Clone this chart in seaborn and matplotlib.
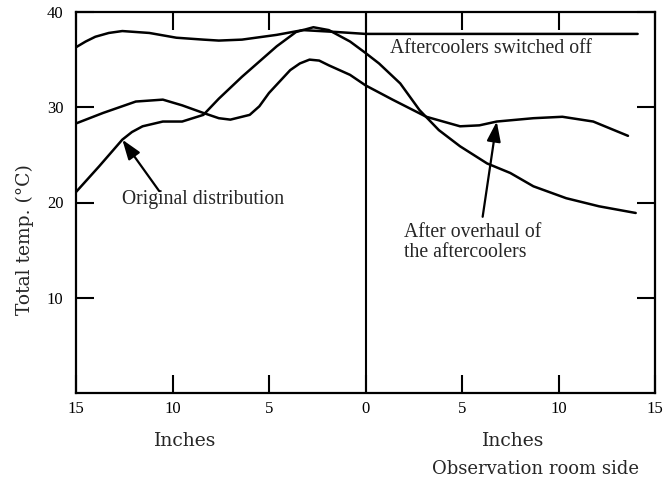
import matplotlib
matplotlib.use("Agg")
import matplotlib.pyplot as plt
import seaborn as sns
import pandas as pd
from matplotlib.ticker import FuncFormatter

# --- data ---
off_x = [-15, -14.5, -14, -13.3, -12.6, -11.2, -9.8, -8.4, -7.6, -6.4, -4.6, -3.25, -1.5, 0, 4, 8, 12, 14.1]
off_y = [36.3, 36.9, 37.4, 37.8, 38.0, 37.8, 37.3, 37.1, 37.0, 37.1, 37.6, 38.1, 37.9, 37.7, 37.7, 37.7, 37.7, 37.7]

orig_x = [-15, -13.8, -12.6, -12.1, -11.55, -10.5, -9.5, -8.4, -7.6, -6.4, -4.6, -3.6, -2.7, -1.9, -0.8,
          0, 0.7, 1.8, 2.8, 3.8, 4.9, 6.3, 7.5, 8.7, 10.4, 12.1, 14.0]
orig_y = [21.1, 23.8, 26.6, 27.4, 28.0, 28.5, 28.5, 29.2, 30.9, 33.2, 36.4, 37.9, 38.4, 38.1, 36.9,
          35.7, 34.6, 32.5, 29.7, 27.6, 25.9, 24.1, 23.1, 21.7, 20.45, 19.6, 18.9]

over_x = [-15, -13.6, -11.9, -10.5, -9.5, -8.4, -7.6, -7.0, -6.0, -5.5, -5.0, -3.9, -3.4, -2.9, -2.4,
          -1.9, -0.8, 0, 1.4, 3.15, 4.9, 5.9, 6.8, 8.7, 10.2, 11.8, 13.6]
over_y = [28.3, 29.4, 30.6, 30.8, 30.2, 29.4, 28.85, 28.7, 29.2, 30.1, 31.5, 33.9, 34.6, 35.0, 34.9,
          34.4, 33.4, 32.3, 30.8, 29.0, 28.0, 28.1, 28.5, 28.85, 29.0, 28.5, 27.0]

series_names = ["Aftercoolers switched off", "Original distribution", "After overhaul of the aftercoolers"]
x_ticks = [-15, -10, -5, 0, 5, 10, 15]
y_ticks = [10, 20, 30, 40]

df = pd.concat([
    pd.DataFrame({"x": off_x, "y": off_y, "series": series_names[0]}),
    pd.DataFrame({"x": orig_x, "y": orig_y, "series": series_names[1]}),
    pd.DataFrame({"x": over_x, "y": over_y, "series": series_names[2]}),
], ignore_index=True)

sns.set_theme(style="ticks")
plt.rcParams["font.family"] = ["Liberation Serif", "DejaVu Serif"]

fig = plt.figure(figsize=(6.65, 4.84), dpi=100)
ax = fig.add_axes([76 / 665, 1 - 393 / 484, (655 - 76) / 665, (393 - 12) / 484])

sns.lineplot(data=df, x="x", y="y", hue="series", palette=["black"] * 3,
             estimator=None, sort=True, legend=False, linewidth=1.8, ax=ax)

ax.axvline(0, color="black", linewidth=1.5)
ax.set_xlim(-15, 15)
ax.set_ylim(0, 40)
ax.set_xticks(x_ticks)
ax.set_yticks(y_ticks)
ax.xaxis.set_major_formatter(FuncFormatter(lambda v, p: f"{abs(int(round(v)))}"))
ax.tick_params(direction="in", length=13, width=1.5, top=True, right=True,
               labelsize=12, colors="black", pad=6)
ax.tick_params(axis="y", pad=9)
for s in ax.spines.values():
    s.set_linewidth(1.6)
    s.set_color("black")
ax.set_xlabel("")
ax.set_ylabel("")

# annotations
afs = 14.2
ax.text(6.5, 36.2, "Aftercoolers switched off", ha="center", va="center", fontsize=afs)
ax.text(-12.61, 20.27, "Original distribution", ha="left", va="center", fontsize=afs)
ax.text(2.02, 16.8, "After overhaul of", ha="left", va="center", fontsize=afs)
ax.text(2.02, 14.7, "the aftercoolers", ha="left", va="center", fontsize=afs)

arrowprops = dict(arrowstyle="-|>,head_length=1.0,head_width=0.35", color="black", lw=1.6,
                  shrinkA=0, shrinkB=0)
ax.annotate("", xy=(-12.6, 26.6), xytext=(-10.69, 21.2), arrowprops=arrowprops)
ax.annotate("", xy=(6.8, 28.5), xytext=(6.07, 18.5), arrowprops=arrowprops)

# axis labels
lfs = 13
fig.text(185 / 665, 1 - 441 / 484, "Inches", ha="center", va="center", fontsize=lfs + 0.5,
         family=["DejaVu Serif"])
fig.text(513 / 665, 1 - 441 / 484, "Inches", ha="center", va="center", fontsize=lfs + 0.5,
         family=["DejaVu Serif"])
fig.text(536 / 665, 1 - 469 / 484, "Observation room side", ha="center", va="center",
         fontsize=lfs, family=["DejaVu Serif"])
fig.text(25 / 665, 1 - 240 / 484, "Total temp. (°C)", ha="center", va="center", rotation=90,
         fontsize=13.5, family=["DejaVu Serif"])

fig.savefig("out.png", dpi=100)
